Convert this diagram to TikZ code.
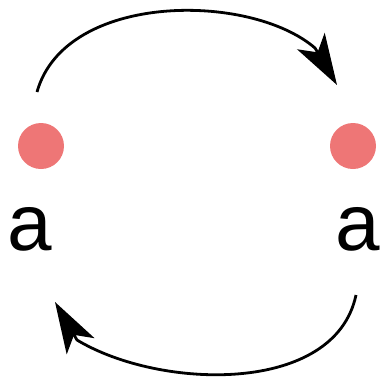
\documentclass[tikz,border=0pt]{standalone}
\usepackage{fontspec}
\setmainfont{Liberation Sans}
\usepackage{xcolor}
\usetikzlibrary{positioning, calc, arrows.meta, bending}

\definecolor{dotpink}{RGB}{238,118,118}

\begin{document}
\begin{tikzpicture}[
    x=1pt, y=-1pt,
    every node/.style={font=\fontsize{80}{80}\selectfont},
    dot/.style={
        circle,
        fill=dotpink,
        inner sep=0pt,
        minimum size=46pt
    },
    letter/.style={
        inner sep=0pt,
        anchor=base
    },
    arrow/.style={
        line width=2.8pt,
        -{Stealth[length=51pt, width=32pt, inset=13pt, quick]}
    }
]
\useasboundingbox (0,0) rectangle (380,381);

% Points
\node[dot] (gauche) at (41,146) {};
\node[dot] (droite) at (353,146) {};

\node[letter] (agauche) at (30,250) {a};
\node[letter] (adroite) at (357.5,250) {a};

% Ancres des arcs
\coordinate (haut1) at (37,92);
\coordinate (coude1) at (315,48);
\coordinate (haut2) at (337,85);
\coordinate (bas1) at (356,295);
\coordinate (coude2) at (77,340);
\coordinate (bas2) at (55,302);

% Flèches
\draw[arrow] (haut1) .. controls (65,-8) and (250,-8) .. (coude1) -- (haut2);
\draw[arrow] (bas1) .. controls (335,395) and (160,390) .. (coude2) -- (bas2);

\end{tikzpicture}
\end{document}
